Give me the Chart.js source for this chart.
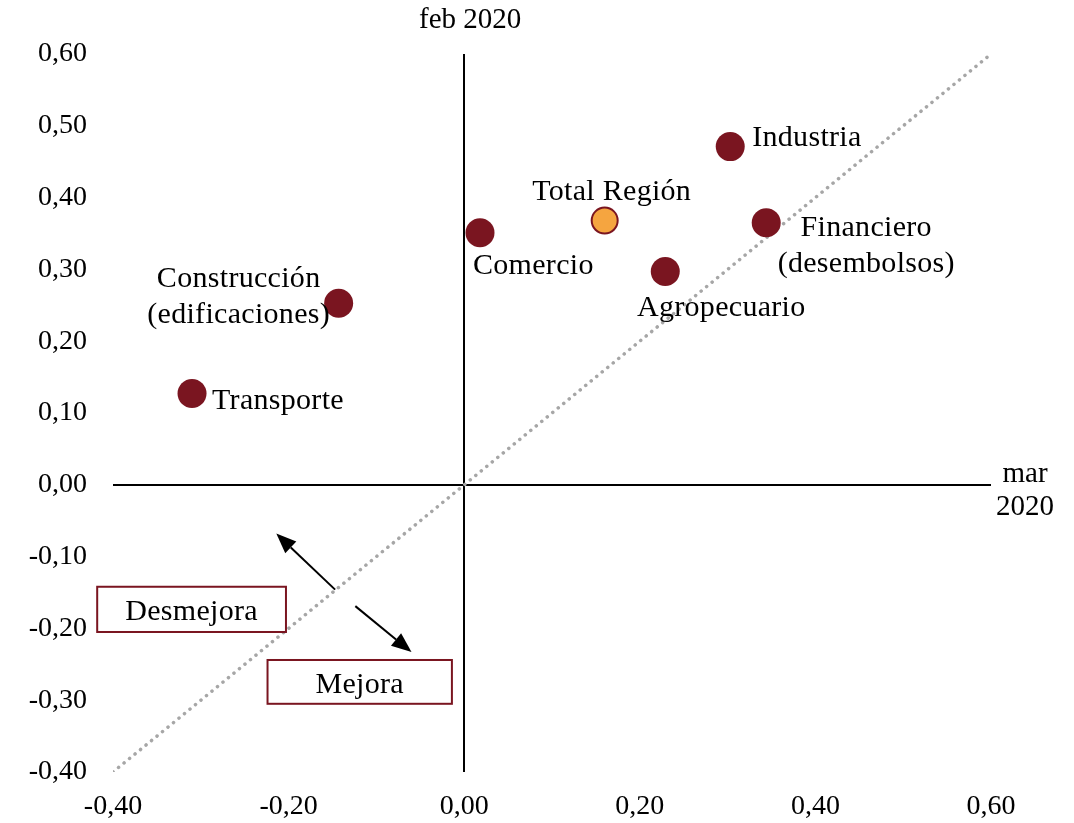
<!DOCTYPE html>
<html>
<head>
<meta charset="utf-8">
<script src="https://cdn.jsdelivr.net/npm/chart.js@4"></script>
<style>
  html, body { margin: 0; padding: 0; background: #fff; }
  #wrap { width: 1074px; height: 823px; }
</style>
</head>
<body>
<div id="wrap"><canvas id="chart"></canvas></div>
<script>
// sectores: variación mar 2020 (x) vs feb 2020 (y)
const sectors = ['Industria', 'Total Región', 'Financiero\n(desembolsos)', 'Comercio', 'Agropecuario', 'Construcción\n(edificaciones)', 'Transporte'];
const marValues = [0.303, 0.160, 0.344, 0.018, 0.229, -0.143, -0.310];
const febValues = [0.471, 0.368, 0.365, 0.351, 0.297, 0.253, 0.127];
const diagonal = [-0.40, 0.60];
const xTicks = { min: -0.40, max: 0.60, step: 0.20 };
const yTicks = { min: -0.40, max: 0.60, step: 0.10 };

const MAROON = '#7A1520';
const ORANGE = '#F5A540';
const FONT = '"Liberation Serif", "Times New Roman", serif';

// where each label sits relative to its point (px)
const labelOffsets = [
  { dx: 22, dy: -8, align: 'left' },
  { dx: 7, dy: -28, align: 'center' },
  { dx: 100, dy: 5, align: 'center' },
  { dx: -7, dy: 33, align: 'left' },
  { dx: 56, dy: 37, align: 'center' },
  { dx: -100, dy: -24, align: 'center' },
  { dx: 20, dy: 8, align: 'left' }
];

// annotation boxes / arrows in data units
const boxes = [
  { text: 'Desmejora', x1: -0.418, x2: -0.203, y1: -0.142, y2: -0.205 },
  { text: 'Mejora', x1: -0.224, x2: -0.014, y1: -0.244, y2: -0.305 }
];
const arrows = [
  { x1: -0.147, y1: -0.146, x2: -0.214, y2: -0.068 },
  { x1: -0.124, y1: -0.169, x2: -0.060, y2: -0.233 }
];

const fmt = v => {
  if (Math.abs(v) < 1e-9) v = 0;
  return v.toFixed(2).replace('.', ',');
};

const annotations = {
  id: 'annotations',
  afterDatasetsDraw(chart) {
    const { ctx, scales: { x, y } } = chart;
    ctx.save();
    ctx.fillStyle = '#000';
    ctx.textBaseline = 'middle';

    // point labels
    ctx.font = '30px ' + FONT;
    ctx.letterSpacing = '0.3px';
    sectors.forEach((name, i) => {
      const off = labelOffsets[i];
      const px = x.getPixelForValue(marValues[i]) + off.dx;
      const py = y.getPixelForValue(febValues[i]) + off.dy;
      ctx.textAlign = off.align;
      name.split('\n').forEach((line, j) => ctx.fillText(line, px, py + j * 36));
    });

    // boxes
    boxes.forEach(b => {
      const l = x.getPixelForValue(b.x1), r = x.getPixelForValue(b.x2);
      const t = y.getPixelForValue(b.y1), bt = y.getPixelForValue(b.y2);
      ctx.fillStyle = '#fff';
      ctx.fillRect(l, t, r - l, bt - t);
      ctx.strokeStyle = MAROON;
      ctx.lineWidth = 2;
      ctx.strokeRect(l, t, r - l, bt - t);
      ctx.fillStyle = '#000';
      ctx.textAlign = 'center';
      ctx.fillText(b.text, (l + r) / 2, (t + bt) / 2 + 3);
    });

    // axis names
    ctx.font = '29px ' + FONT;
    ctx.letterSpacing = '0px';
    ctx.textAlign = 'center';
    ctx.fillText('feb 2020', x.getPixelForValue(0) + 6, 20);
    ctx.fillText('mar', 1025, y.getPixelForValue(0) - 10);
    ctx.fillText('2020', 1025, y.getPixelForValue(0) + 23);

    // arrows
    arrows.forEach(a => {
      const sx = x.getPixelForValue(a.x1), sy = y.getPixelForValue(a.y1);
      const ex = x.getPixelForValue(a.x2), ey = y.getPixelForValue(a.y2);
      const ang = Math.atan2(ey - sy, ex - sx);
      const head = 20, wing = 8;
      const bx = ex - head * Math.cos(ang), by = ey - head * Math.sin(ang);
      ctx.strokeStyle = '#000';
      ctx.lineWidth = 2;
      ctx.beginPath();
      ctx.moveTo(sx, sy);
      ctx.lineTo(bx, by);
      ctx.stroke();
      ctx.fillStyle = '#000';
      ctx.beginPath();
      ctx.moveTo(ex, ey);
      ctx.lineTo(bx + wing * Math.sin(ang), by - wing * Math.cos(ang));
      ctx.lineTo(bx - wing * Math.sin(ang), by + wing * Math.cos(ang));
      ctx.closePath();
      ctx.fill();
    });
    ctx.restore();
  }
};

const zeroLine = ctx => (Math.abs(ctx.tick.value) < 1e-9 ? '#000' : 'rgba(0,0,0,0)');

new Chart(document.getElementById('chart'), {
  type: 'scatter',
  data: {
    datasets: [
      {
        type: 'line',
        data: diagonal.map(v => ({ x: v, y: v })),
        borderColor: '#A6A6A6',
        borderWidth: 3.5,
        borderDash: [0.1, 7],
        borderCapStyle: 'round',
        pointRadius: 0,
        order: 2
      },
      {
        data: marValues.map((v, i) => ({ x: v, y: febValues[i] })),
        backgroundColor: sectors.map(s => (s === 'Total Región' ? ORANGE : MAROON)),
        borderColor: MAROON,
        borderWidth: sectors.map(s => (s === 'Total Región' ? 2 : 0)),
        pointRadius: sectors.map(s => (s === 'Total Región' ? 13 : 14.5)),
        order: 1
      }
    ]
  },
  options: {
    responsive: true,
    maintainAspectRatio: false,
    animation: false,
    layout: { padding: { top: 54, right: 83, left: 0, bottom: 0 } },
    plugins: { legend: { display: false }, tooltip: { enabled: false } },
    scales: {
      x: {
        type: 'linear',
        min: xTicks.min,
        max: xTicks.max,
        border: { display: false },
        grid: { color: zeroLine, lineWidth: 2, drawTicks: false },
        ticks: {
          stepSize: xTicks.step,
          padding: 18,
          color: '#000',
          font: { family: FONT, size: 28 },
          callback: v => fmt(v)
        },
        afterFit: s => { s.height = 51; }
      },
      y: {
        type: 'linear',
        min: yTicks.min,
        max: yTicks.max,
        border: { display: false },
        grid: { color: zeroLine, lineWidth: 2, drawTicks: false },
        ticks: {
          stepSize: yTicks.step,
          padding: 26,
          color: '#000',
          font: { family: FONT, size: 28 },
          callback: v => fmt(v)
        },
        afterFit: s => { s.width = 113; }
      }
    }
  },
  plugins: [annotations]
});
</script>
</body>
</html>
